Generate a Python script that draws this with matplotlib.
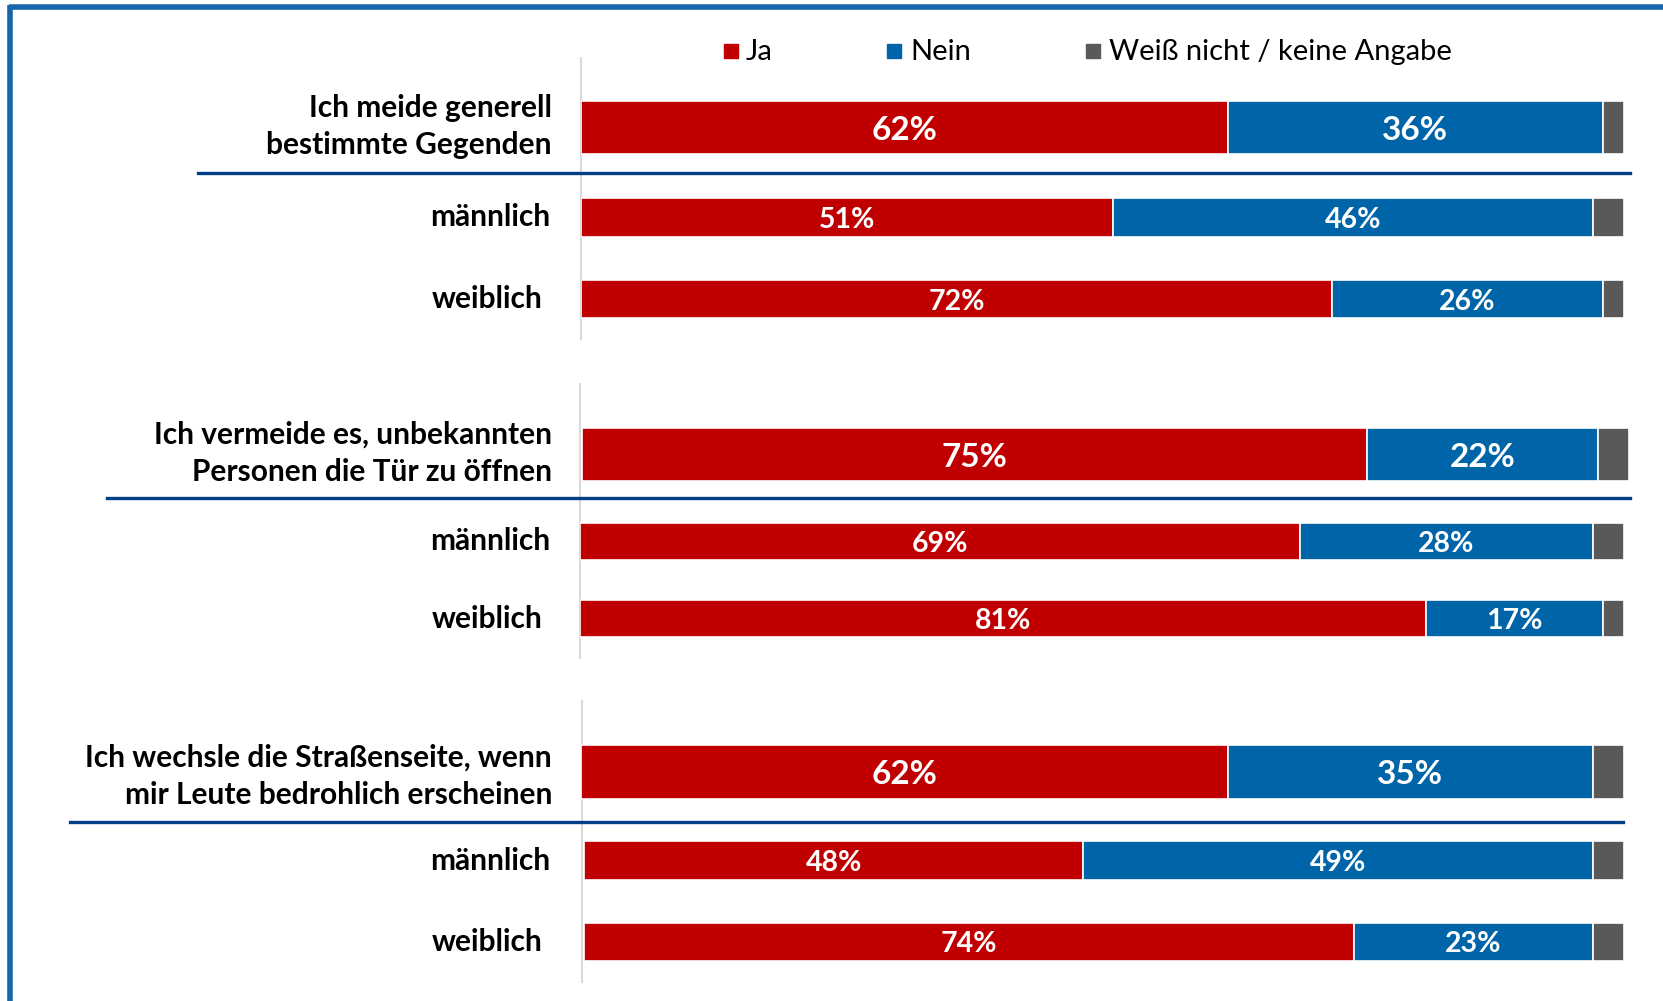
import matplotlib
matplotlib.use("Agg")
import matplotlib.pyplot as plt
from matplotlib.patches import Rectangle
from matplotlib.lines import Line2D

plt.rcParams['font.family'] = ['Lato', 'DejaVu Sans']

# ---------------- data ----------------
questions = [
    "Ich meide generell\nbestimmte Gegenden",
    "Ich vermeide es, unbekannten\nPersonen die Tür zu öffnen",
    "Ich wechsle die Straßenseite, wenn\nmir Leute bedrohlich erscheinen",
]
groups = ["männlich", "weiblich"]
series_names = ["Ja", "Nein", "Weiß nicht / keine Angabe"]
ja = [[62, 51, 72], [75, 69, 81], [62, 48, 74]]
nein = [[36, 46, 26], [22, 28, 17], [35, 49, 23]]
weiss_nicht = [[2, 3, 2], [3, 3, 2], [3, 3, 3]]

# ---------------- styling / layout ----------------
W, H = 1663, 1001
colors = ["#C00000", "#0065A8", "#595959"]
navy = "#003F87"
frame_col = "#1566AA"

fig = plt.figure(figsize=(W / 100, H / 100), dpi=100)

# overlay axes in pixel coordinates for texts and lines
ov = fig.add_axes([0, 0, 1, 1])
ov.set_xlim(0, W)
ov.set_ylim(H, 0)
ov.axis("off")

# row extents in pixels (left, right) for each panel row: main, männlich, weiblich
row_x = [[(581, 1624), (581, 1624), (581, 1624)],
         [(582, 1629), (580, 1624), (580, 1624)],
         [(581, 1624), (584, 1624), (584, 1624)]]
row_y = [[127.5, 217.5, 299], [454.5, 541.5, 618.5], [772, 860.5, 942]]
row_h = [[53, 39, 38], [53, 37, 37], [54, 39, 38]]
label_y = [126.5, 453.5, 776.5]
sep_lines = [(173, 198, 1630), (498, 107, 1630), (822, 70, 1623)]
vlines = [(581, 58, 339), (580, 384, 658), (582, 701, 982)]

for p in range(3):
    for r in range(3):
        x0, x1 = row_x[p][r]
        ax = fig.add_axes([x0 / W, 0, (x1 - x0) / W, 1], zorder=2)
        ax.set_xlim(0, 100)
        ax.set_ylim(H, 0)
        ax.axis("off")
        ax.patch.set_alpha(0)
        vals = [ja[p][r], nein[p][r], weiss_nicht[p][r]]
        left = 0
        for s in range(3):
            ax.barh([row_y[p][r]], [vals[s]], height=row_h[p][r], left=left,
                    color=colors[s], edgecolor="white", linewidth=1.2)
            if s < 2:
                fs = 24 if r == 0 else 20.5
                dy = 3 if r == 0 else 2.5
                ax.text(left + vals[s] / 2, row_y[p][r] + dy, f"{vals[s]}%",
                        ha="center", va="center", color="white",
                        fontsize=fs, fontweight="bold")
            left += vals[s]

    # question label
    ov.text(552, label_y[p], questions[p], ha="right", va="center",
            multialignment="right", fontsize=21.5, fontweight="bold",
            linespacing=1.4, color="black")
    # group labels
    ov.text(550, row_y[p][1], groups[0], ha="right", va="center",
            fontsize=21.5, fontweight="bold", color="black")
    ov.text(542, row_y[p][2], groups[1], ha="right", va="center",
            fontsize=21.5, fontweight="bold", color="black")
    # separator
    y, xa, xb = sep_lines[p]
    ov.add_line(Line2D([xa, xb], [y, y], color=navy, lw=2.4, zorder=3))
    # axis line
    x, ya, yb = vlines[p]
    ov.add_line(Line2D([x, x], [ya, yb], color="#D9D9D9", lw=1.5, zorder=1))

# legend
leg_sq_x = [731, 894, 1093]
leg_txt_x = [746, 910, 1109]
for i in range(3):
    ov.add_patch(Rectangle((leg_sq_x[i] - 7, 51 - 7), 14, 14, color=colors[i]))
    ov.text(leg_txt_x[i], 52, series_names[i], ha="left", va="center",
            fontsize=21, color="black")

# frame
ov.add_line(Line2D([9, W], [7, 7], color=frame_col, lw=4, solid_capstyle="butt"))
ov.add_line(Line2D([10, 10], [5, H], color=frame_col, lw=4, solid_capstyle="butt"))

fig.savefig("out.png", dpi=100)
